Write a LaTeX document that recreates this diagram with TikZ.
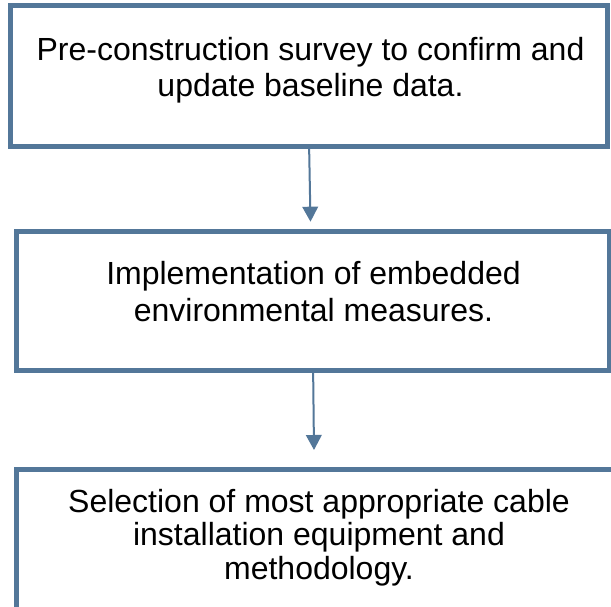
\documentclass[tikz,border=0pt]{standalone}
\usepackage{fontspec}
\setmainfont{Liberation Sans}
\usetikzlibrary{arrows.meta}
\definecolor{edge}{RGB}{83,119,153}
\tikzset{
  stepbox/.style={draw=edge, line width=5pt, fill=white, inner sep=0pt, rectangle},
  steptext/.style={anchor=base, inner sep=0pt, text=black},
  flowarrow/.style={draw=edge, line width=2pt, -{Triangle[width=15.6pt,length=15pt]}}
}
\begin{document}
\begin{tikzpicture}[x=1pt,y=-1pt]
\clip (0,0) rectangle (611,607);
\fill[white] (0,0) rectangle (611,607);
% boxes
\node[stepbox, minimum width=596.7pt, minimum height=141.2pt] (b1) at (309.15,75.9) {};
\node[stepbox, minimum width=592.7pt, minimum height=138.5pt] (b2) at (313.15,301.25) {};
\node[stepbox, minimum width=596.2pt, minimum height=140pt] (b3) at (314.9,539) {};
% texts
\node[steptext, font=\fontsize{32}{35.5}\selectfont] (t1) at (310.5,60.8)
  {\begin{tabular}[t]{@{}c@{}}Pre-construction survey to confirm and\\update baseline data.\end{tabular}};
\node[steptext, font=\fontsize{32}{36.7}\selectfont] (t2) at (313.5,284.5)
  {\begin{tabular}[t]{@{}c@{}}Implementation of embedded\\environmental measures.\end{tabular}};
\node[steptext, font=\fontsize{32}{33.5}\selectfont] (t3) at (319,512.2)
  {\begin{tabular}[t]{@{}c@{}}Selection of most appropriate cable\\installation equipment and\\methodology.\end{tabular}};
% arrows
\coordinate (a1e) at (310.5,221.7);
\coordinate (a2e) at (314,450);
\draw[flowarrow] (b1.south) -- (a1e);
\draw[flowarrow] (b2.south) -- (a2e);
\end{tikzpicture}
\end{document}
